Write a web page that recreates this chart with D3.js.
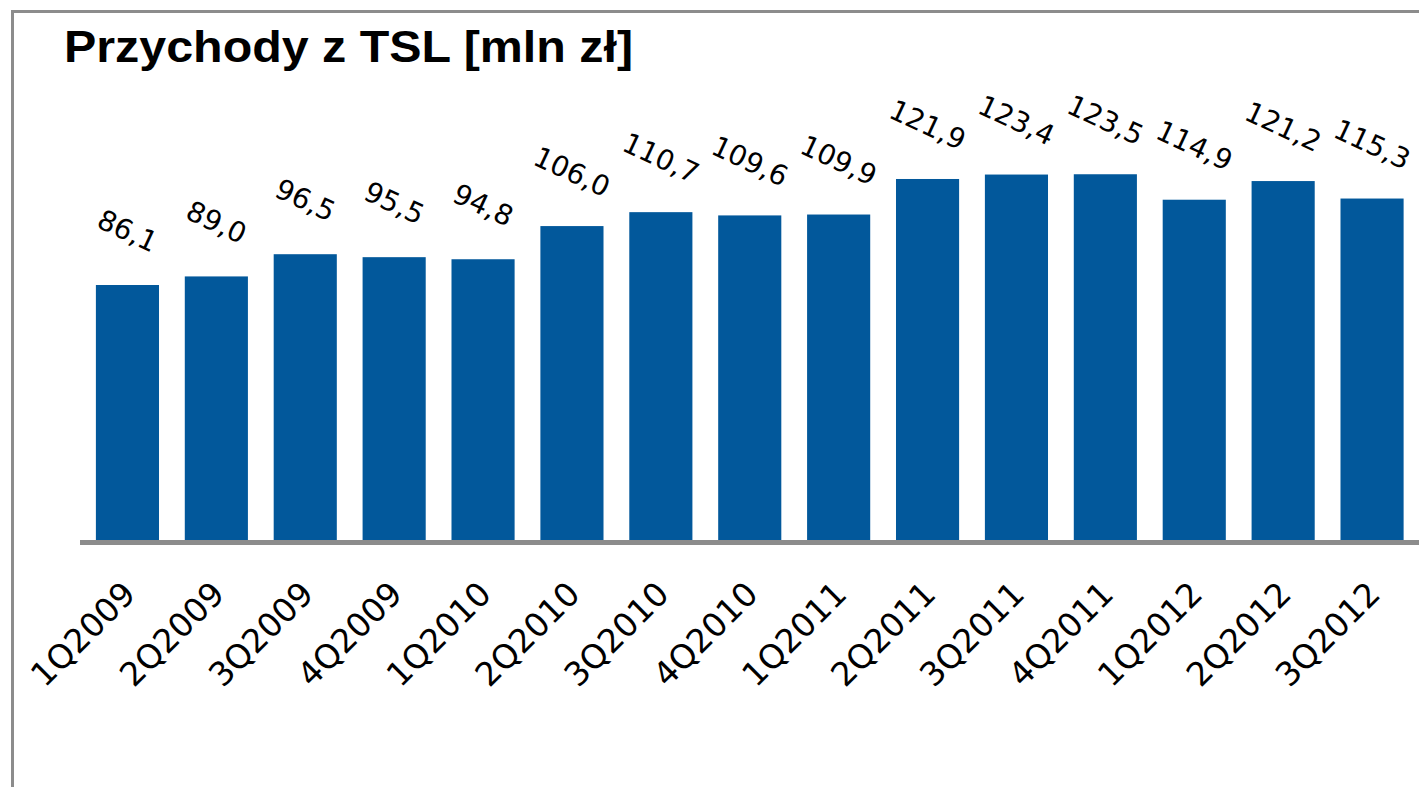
<!DOCTYPE html>
<html lang="pl">
<head>
  <meta charset="UTF-8">
  <title>Przychody z TSL [mln zł]</title>
  <script src="https://d3js.org/d3.v7.min.js"></script>
  <style>
    body { margin: 0; background: #fff; }
    .bar { fill: #02589b; }
    .value { font-family: "DejaVu Sans", Verdana, sans-serif; font-size: 28px; fill: #000; }
    .cat { font-family: "DejaVu Sans", Verdana, sans-serif; font-size: 33px; fill: #000; }
    .title { font-family: "Liberation Sans", Arial, sans-serif; font-weight: bold; font-size: 45px; fill: #000; }
  </style>
</head>
<body>
  <div id="chart"></div>
  <script>
    // quarters and revenue values (mln zł)
    const quarters = ["1Q2009", "2Q2009", "3Q2009", "4Q2009", "1Q2010", "2Q2010", "3Q2010", "4Q2010",
                      "1Q2011", "2Q2011", "3Q2011", "4Q2011", "1Q2012", "2Q2012", "3Q2012"];
    const revenue = [86.1, 89.0, 96.5, 95.5, 94.8, 106.0, 110.7, 109.6, 109.9, 121.9, 123.4, 123.5, 114.9, 121.2, 115.3];
    const titleText = "Przychody z TSL [mln zł]";

    const data = quarters.map((q, i) => ({ q: q, v: revenue[i] }));

    const width = 1419, height = 787;
    const base = 540;

    const svg = d3.select("#chart")
      .append("svg")
      .attr("width", width)
      .attr("height", height);

    // frame lines (top and left)
    svg.append("line")
      .attr("x1", 11).attr("x2", width).attr("y1", 11.5).attr("y2", 11.5)
      .attr("stroke", "#8c8c8c").attr("stroke-width", 3);
    svg.append("line")
      .attr("x1", 12.5).attr("x2", 12.5).attr("y1", 10).attr("y2", height)
      .attr("stroke", "#8c8c8c").attr("stroke-width", 3);

    svg.append("text")
      .attr("class", "title")
      .attr("x", 64)
      .attr("y", 62)
      .attr("textLength", 569)
      .attr("lengthAdjust", "spacingAndGlyphs")
      .text(titleText);

    const x = d3.scaleBand()
      .domain(quarters)
      .range([83, 1416.5])
      .paddingInner(0.29)
      .paddingOuter(0.145);

    const y = d3.scaleLinear()
      .domain([0, 130])
      .range([base, 155]);

    const fmt = v => d3.format(".1f")(v).replace(".", ",");

    svg.selectAll(".bar")
      .data(data)
      .enter()
      .append("rect")
      .attr("class", "bar")
      .attr("x", d => x(d.q))
      .attr("width", x.bandwidth())
      .attr("y", d => y(d.v))
      .attr("height", d => y(0) - y(d.v));

    // value labels, tilted
    svg.selectAll(".value")
      .data(data)
      .enter()
      .append("text")
      .attr("class", "value")
      .attr("text-anchor", "middle")
      .attr("dominant-baseline", "central")
      .attr("transform", d => "translate(" + (x(d.q) + x.bandwidth() / 2) + "," + (y(d.v) - 54) + ") rotate(25)")
      .text(d => fmt(d.v));

    // baseline
    svg.append("line")
      .attr("x1", 80).attr("x2", width)
      .attr("y1", base + 2.5).attr("y2", base + 2.5)
      .attr("stroke", "#8c8c8c").attr("stroke-width", 5);

    // category labels
    svg.selectAll(".cat")
      .data(data)
      .enter()
      .append("text")
      .attr("class", "cat")
      .attr("text-anchor", "end")
      .attr("transform", d => "translate(" + (x(d.q) + x.bandwidth() / 2 + 10) + "," + 596 + ") rotate(-45)")
      .text(d => d.q);
  </script>
</body>
</html>
